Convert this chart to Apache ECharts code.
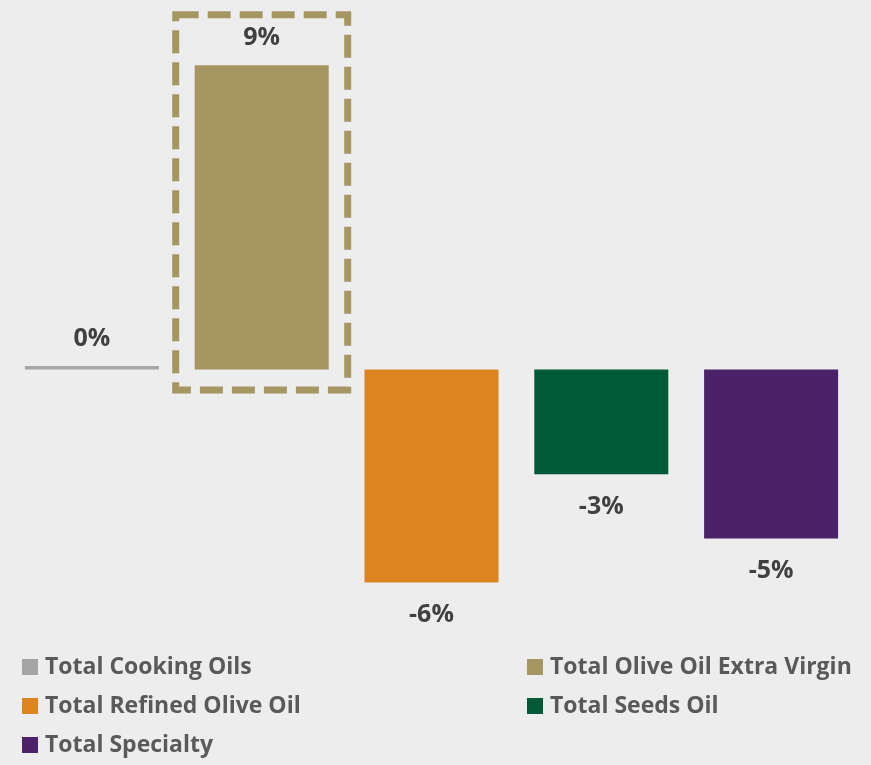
<!DOCTYPE html>
<html>
<head>
<meta charset="utf-8">
<script src="https://cdn.jsdelivr.net/npm/echarts@6/dist/echarts.min.js"></script>
<style>
  html, body { margin: 0; padding: 0; background: #ededed; }
  #chart { width: 871px; height: 765px; }
</style>
</head>
<body>
<div id="chart"></div>
<script>
// Year-on-year change by oil segment (%)
var categories = [
  'Total Cooking Oils',
  'Total Olive Oil Extra Virgin',
  'Total Refined Olive Oil',
  'Total Seeds Oil',
  'Total Specialty'
];
var changes = [0.1, 9.0, -6.3, -3.1, -5.0];
var colors = ['#a5a5a5', '#a69661', '#dc8520', '#005a37', '#4b2268'];
var highlightIndex = 1;

var leftLegend = [categories[0], categories[2], categories[4]];
var rightLegend = [categories[1], categories[3]];

var FONT = '"Open Sans", Lato, sans-serif';
var BAR_WIDTH = 134;

var series = categories.map(function (name, i) {
  var data = categories.map(function (_, j) {
    if (j !== i) return null;
    var positive = changes[j] >= 0;
    return {
      value: changes[j],
      label: { position: positive ? 'top' : 'bottom', distance: positive ? 15 : 20 }
    };
  });
  return {
    name: name,
    type: 'bar',
    stack: 'all',
    barWidth: BAR_WIDTH,
    itemStyle: { color: colors[i] },
    label: {
      show: true,
      color: '#404040',
      fontFamily: FONT,
      fontWeight: 'bold',
      fontSize: 25,
      formatter: function (p) { return Math.round(p.value) + '%'; }
    },
    data: data
  };
});

// Dashed frame around the highlighted segment
series.push({
  name: 'frame',
  type: 'custom',
  silent: true,
  z: 1,
  data: [[highlightIndex, changes[highlightIndex]]],
  renderItem: function (params, api) {
    var top = api.coord([api.value(0), api.value(1)]);
    var zero = api.coord([api.value(0), 0]);
    var half = BAR_WIDTH / 2 + 19;
    var y0 = top[1] - 50.5;
    var y1 = zero[1] + 20.5;
    return {
      type: 'rect',
      shape: { x: top[0] - half, y: y0, width: half * 2, height: y1 - y0 },
      style: {
        fill: 'none',
        stroke: colors[highlightIndex],
        lineWidth: 7,
        lineDash: [23, 9]
      }
    };
  }
});

function makeLegend(left, items) {
  return {
    orient: 'vertical',
    left: left,
    top: 654,
    icon: 'rect',
    itemWidth: 16,
    itemHeight: 16,
    itemGap: 13,
    padding: 0,
    selectedMode: false,
    textStyle: {
      color: '#595959',
      fontFamily: FONT,
      fontWeight: 'bold',
      fontSize: 23,
      lineHeight: 26,
      padding: [0, 0, 0, 2]
    },
    data: items
  };
}

var chart = echarts.init(document.getElementById('chart'));
chart.setOption({
  backgroundColor: '#ededed',
  animation: false,
  grid: { left: 7, right: 15, top: 31.5, bottom: 125.1 },
  xAxis: { type: 'category', data: categories, show: false },
  yAxis: { type: 'value', min: -8, max: 10, show: false, splitLine: { show: false } },
  legend: [makeLegend(22, leftLegend), makeLegend(527, rightLegend)],
  series: series
});
</script>
</body>
</html>
